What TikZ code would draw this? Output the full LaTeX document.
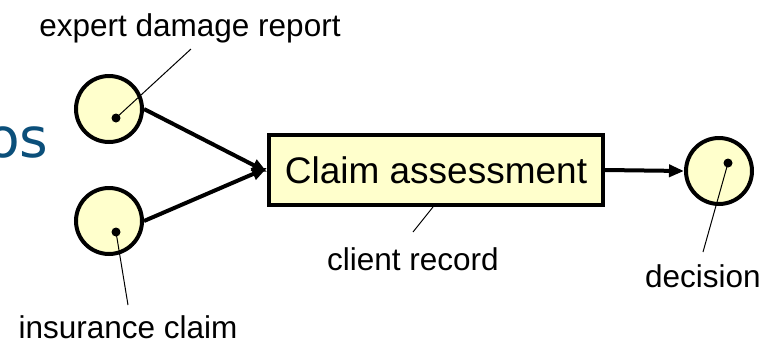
\documentclass[tikz,border=0pt]{standalone}
\usepackage{fontspec}
\setmainfont{Liberation Sans}
\newfontfamily\titlefont{DejaVu Sans}
\usetikzlibrary{arrows.meta}
\definecolor{placefill}{HTML}{FFFFCC}
\definecolor{titleblue}{HTML}{0B4F7A}
\begin{document}
\begin{tikzpicture}[x=1pt,y=-1pt,
  place/.style={circle,draw=black,line width=4pt,fill=placefill,minimum size=66pt,inner sep=0pt},
  trans/.style={rectangle,draw=black,line width=4pt,fill=placefill,minimum width=334pt,minimum height=70pt,inner sep=0pt,font=\fontsize{37}{40}\selectfont},
  tok/.style={circle,fill=black,minimum size=9pt,inner sep=0pt},
  lbl/.style={font=\fontsize{31.5}{34}\selectfont,inner sep=0pt,anchor=base},
  flow/.style={line width=4pt,-{Triangle[length=15pt,width=12pt]}},
  lead/.style={line width=1pt}]
\useasboundingbox (0,0) rectangle (774,346);
\clip (0,0) rectangle (774,346);
\node[anchor=base west,inner sep=0pt,text=titleblue,font=\titlefont\fontsize{55}{60}\selectfont] (title) at (-14,157) {os};

\node[place] (c1) at (109,109) {};
\node[place] (c2) at (109,221) {};
\node[place] (c3) at (719,171) {};
\node[trans] (box) at (436,170) {Claim assessment};

\node[tok] (t1) at (116,118) {};
\node[tok] (t2) at (116,232) {};
\node[tok] (t3) at (728,163) {};

\node[lbl] (lexp) at (190,36) {expert damage report};
\node[lbl] (lins) at (128,338) {insurance claim};
\node[lbl] (lcli) at (413,270) {client record};
\node[lbl] (ldec) at (703,287) {decision};

\coordinate (eexp) at (191,49);
\coordinate (eins) at (128,305);
\coordinate (ecli) at (413,232);
\coordinate (edec) at (703,252);

\draw[lead] (t1.center) -- (eexp);
\draw[lead] (t2.center) -- (eins);
\draw[lead] (t3.center) -- (edec);
\draw[lead] (box.south -| 433,0) -- (ecli);

\draw[flow] (c1.east) -- ([yshift=-2pt]box.west);
\draw[flow] (c2.east) -- ([yshift=2pt]box.west);
\draw[flow] (box.east) -- (c3.west);
\end{tikzpicture}
\end{document}
